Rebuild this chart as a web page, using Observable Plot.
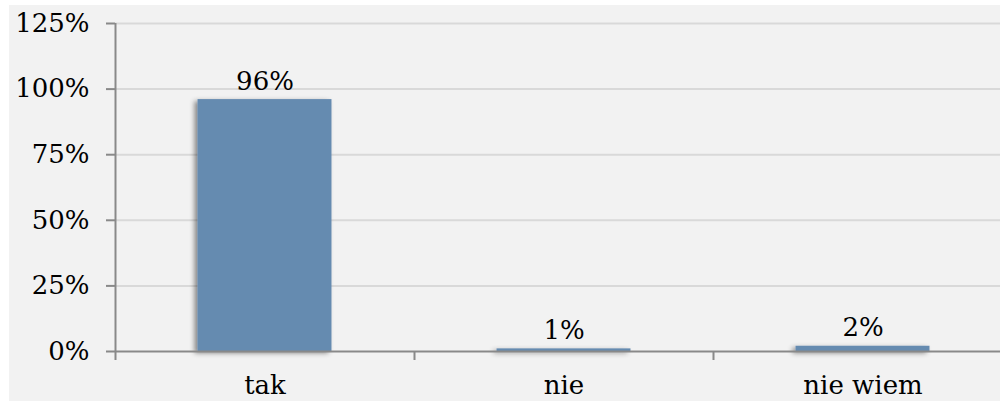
<!DOCTYPE html>
<html>
<head>
<meta charset="utf-8">
<script src="https://cdn.jsdelivr.net/npm/d3@7"></script>
<script src="https://cdn.jsdelivr.net/npm/@observablehq/plot@0.6"></script>
<style>
  html, body { margin: 0; padding: 0; background: #ffffff; }
  #chart { position: absolute; left: 9px; top: 5px; width: 991px; height: 396px; background: #f2f2f2; overflow: hidden; }
  #chart svg { display: block; }
</style>
</head>
<body>
<div id="chart"></div>
<script>
const categories = ["tak", "nie", "nie wiem"];
const values = [96, 1, 2];
const valueLabels = ["96%", "1%", "2%"];
const yTicks = [0, 25, 50, 75, 100, 125];

const data = categories.map((c, i) => ({ cat: c, i, v: values[i], label: valueLabels[i] }));
const barHalf = 0.224;
const font = "DejaVu Serif";
const fs = 26;

const plot = Plot.plot({
  width: 991,
  height: 396,
  marginLeft: 106,
  marginRight: 0,
  marginTop: 18,
  marginBottom: 50,
  style: { background: "transparent", fontFamily: font, fontSize: fs + "px", color: "#000" },
  x: { domain: [0, 3], range: [106, 1003] },
  y: { domain: [0, 125] },
  marks: [
    Plot.ruleY(yTicks.filter(t => t > 0), { stroke: "#d9d9d9", strokeWidth: 2 }),
    Plot.rectY(data, {
      x1: d => d.i + 0.5 - barHalf,
      x2: d => d.i + 0.5 + barHalf,
      y1: 0,
      y2: "v",
      fill: "#658bb0"
    }),
    Plot.ruleY([0], { stroke: "#898989", strokeWidth: 2 }),
    Plot.ruleX([0], { stroke: "#898989", strokeWidth: 2 }),
    Plot.axisY({
      ticks: yTicks,
      tickSize: 9,
      tickPadding: 17,
      tickFormat: d => d + "%",
      stroke: "#898989",
      strokeWidth: 2,
      fill: "#000",
      fontSize: fs,
      label: null
    }),
    Plot.axisX({
      ticks: [0, 1, 2, 3],
      tickSize: 9,
      tickFormat: () => "",
      stroke: "#898989",
      strokeWidth: 2,
      label: null
    }),
    Plot.axisX({
      ticks: categories.map((c, i) => i + 0.5),
      tickSize: 0,
      tickPadding: 24,
      tickFormat: t => categories[Math.floor(t)],
      fill: "#000",
      fontSize: fs,
      label: null
    }),
    Plot.text(data, {
      x: d => d.i + 0.5,
      y: "v",
      text: "label",
      lineAnchor: "bottom",
      dy: -10,
      fill: "#000",
      fontSize: fs
    })
  ]
});

// drop shadow for the bars
const ns = "http://www.w3.org/2000/svg";
const defs = document.createElementNS(ns, "defs");
defs.innerHTML = '<filter id="barShadow" x="-20%" y="-20%" width="140%" height="140%"><feDropShadow dx="-3" dy="2" stdDeviation="2.5" flood-color="#000" flood-opacity="0.45"/></filter>';
plot.insertBefore(defs, plot.firstChild);
const rects = plot.querySelector('g[aria-label="rect"]');
if (rects) rects.setAttribute("filter", "url(#barShadow)");

document.getElementById("chart").appendChild(plot);
</script>
</body>
</html>
